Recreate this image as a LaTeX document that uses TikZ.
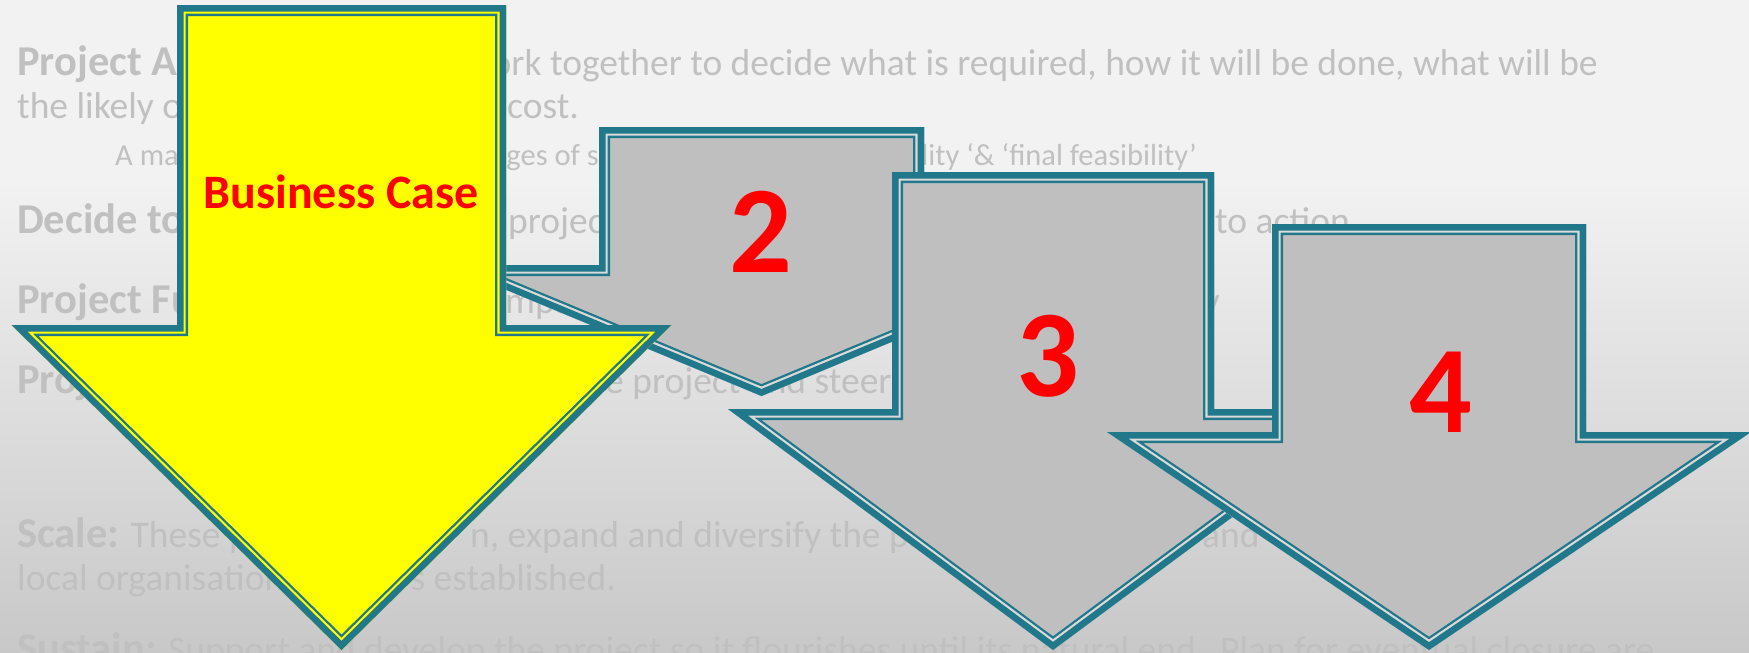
\documentclass[tikz,border=0pt]{standalone}
\usepackage{fontspec}
\setmainfont{Carlito}
\usepackage{tikz}
\definecolor{rimteal}{RGB}{32,120,138}
\definecolor{stagegrey}{RGB}{191,191,191}
\definecolor{stagegap}{RGB}{218,218,218}
\definecolor{caseyellow}{RGB}{255,255,0}
\definecolor{labelred}{RGB}{255,0,0}
\definecolor{bgtop}{RGB}{242,242,242}
\definecolor{bgbottom}{RGB}{200,200,200}
\definecolor{bgtextgrey}{RGB}{192,192,192}
\newcommand{\hd}{\bfseries\fontsize{42.5}{46}\selectfont}
\tikzset{
  bgtext/.style={inner sep=0pt, text=bgtextgrey, font=\fontsize{37.5}{40}\selectfont},
  smalltext/.style={bgtext, font=\fontsize{30.5}{34}\selectfont},
  stagelabel/.style={inner sep=0pt, text=labelred, font=\bfseries\fontsize{124}{130}\selectfont, anchor=base},
  caselabel/.style={inner sep=0pt, text=labelred, font=\bfseries\fontsize{48}{52}\selectfont, anchor=base}
}
% down arrow: fill, gap colour, centre x, top, shaft half width, head top, head half width, tip
\newcommand{\stagearrow}[8]{%
  \def\arrowpath{(#3-#5,#4) -- (#3+#5,#4) -- (#3+#5,#6) -- (#3+#7,#6) -- (#3,#8) -- (#3-#7,#6) -- (#3-#5,#6) -- cycle}
  \fill[#1] \arrowpath;
  \begin{scope}
    \clip \arrowpath;
    \draw[rimteal, line width=22pt] \arrowpath;
    \draw[#2, line width=17.4pt] \arrowpath;
    \draw[rimteal, line width=13pt] \arrowpath;
  \end{scope}}

\begin{document}
\begin{tikzpicture}[x=1pt, y=-1pt]
  \useasboundingbox (0,0) rectangle (1749,653);
  \fill[bgtop] (0,0) rectangle (1749,180);
  \shade[top color=bgtop, bottom color=bgbottom] (0,180) rectangle (1749,653);

  % text behind the arrows
  \node[bgtext, anchor=base west] (headA) at (17,75) {\hd Project A};
  \node[bgtext, anchor=base east] (lineA) at (1598,75) {work together to decide what is required, how it will be done, what will be};
  \node[bgtext, anchor=base west] (lineB) at (17,118) {the likely o};
  \node[bgtext, anchor=base west] (costB) at (507,118) {cost.};
  \node[smalltext, anchor=base west] (noteC) at (115,165) {A ma};
  \node[smalltext, anchor=base east] (noteD) at (599,165) {ages of s};
  \node[smalltext, anchor=base east] (noteE) at (1197,165) {ility ‘\& ‘final feasibility’};
  \node[bgtext, anchor=base west] (headF) at (17,233) {\hd Decide to};
  \node[bgtext, anchor=base west] (lineF) at (508,233) {project};
  \node[bgtext, anchor=base west] (actionF) at (1215,233) {to action};
  \node[bgtext, anchor=base west] (headG) at (17,313) {\hd Project Fu};
  \node[bgtext, anchor=base west] (lineG) at (505,313) {mpa};
  \node[bgtext, anchor=base east] (endG) at (1220,313) {y};
  \node[bgtext, anchor=base west] (headH) at (17,393) {\hd Proj};
  \node[bgtext, anchor=base west] (lineH) at (605,393) {e project and steer};
  \node[bgtext, anchor=base west] (scaleI) at (17,547) {{\hd Scale:} These p};
  \node[bgtext, anchor=base west] (lineI) at (470,547) {n, expand and diversify the pr};
  \node[bgtext, anchor=base west] (andI) at (1202,547) {and};
  \node[bgtext, anchor=base west] (lineJ) at (17,590) {local organisation};
  \node[bgtext, anchor=base east] (endJ) at (616,590) {s established.};
  \node[bgtext, anchor=base west] (sustainK) at (17,662) {{\hd Sustain:} Support and develop the project so it flourishes until its natural end.};
  \node[bgtext, anchor=base west] (planK) at (1220,662) {Plan for eventual closure are};

  % stage arrows, back to front
  \stagearrow{stagegrey}{stagegap}{761.5}{127}{162.5}{265}{315}{396}
  \node[stagelabel] (two) at (761,272) {2};
  \stagearrow{stagegrey}{stagegap}{1053}{172}{161}{409}{325}{650}
  \node[stagelabel] (three) at (1048,396) {3};
  \stagearrow{stagegrey}{stagegap}{1429}{224}{157}{432}{322}{650}
  \node[stagelabel] (four) at (1441,432) {4};
  \stagearrow{caseyellow}{caseyellow}{341.5}{5}{164.5}{325}{330}{650}
  \node[caselabel] (bizcase) at (341,208) {Business Case};
\end{tikzpicture}
\end{document}
